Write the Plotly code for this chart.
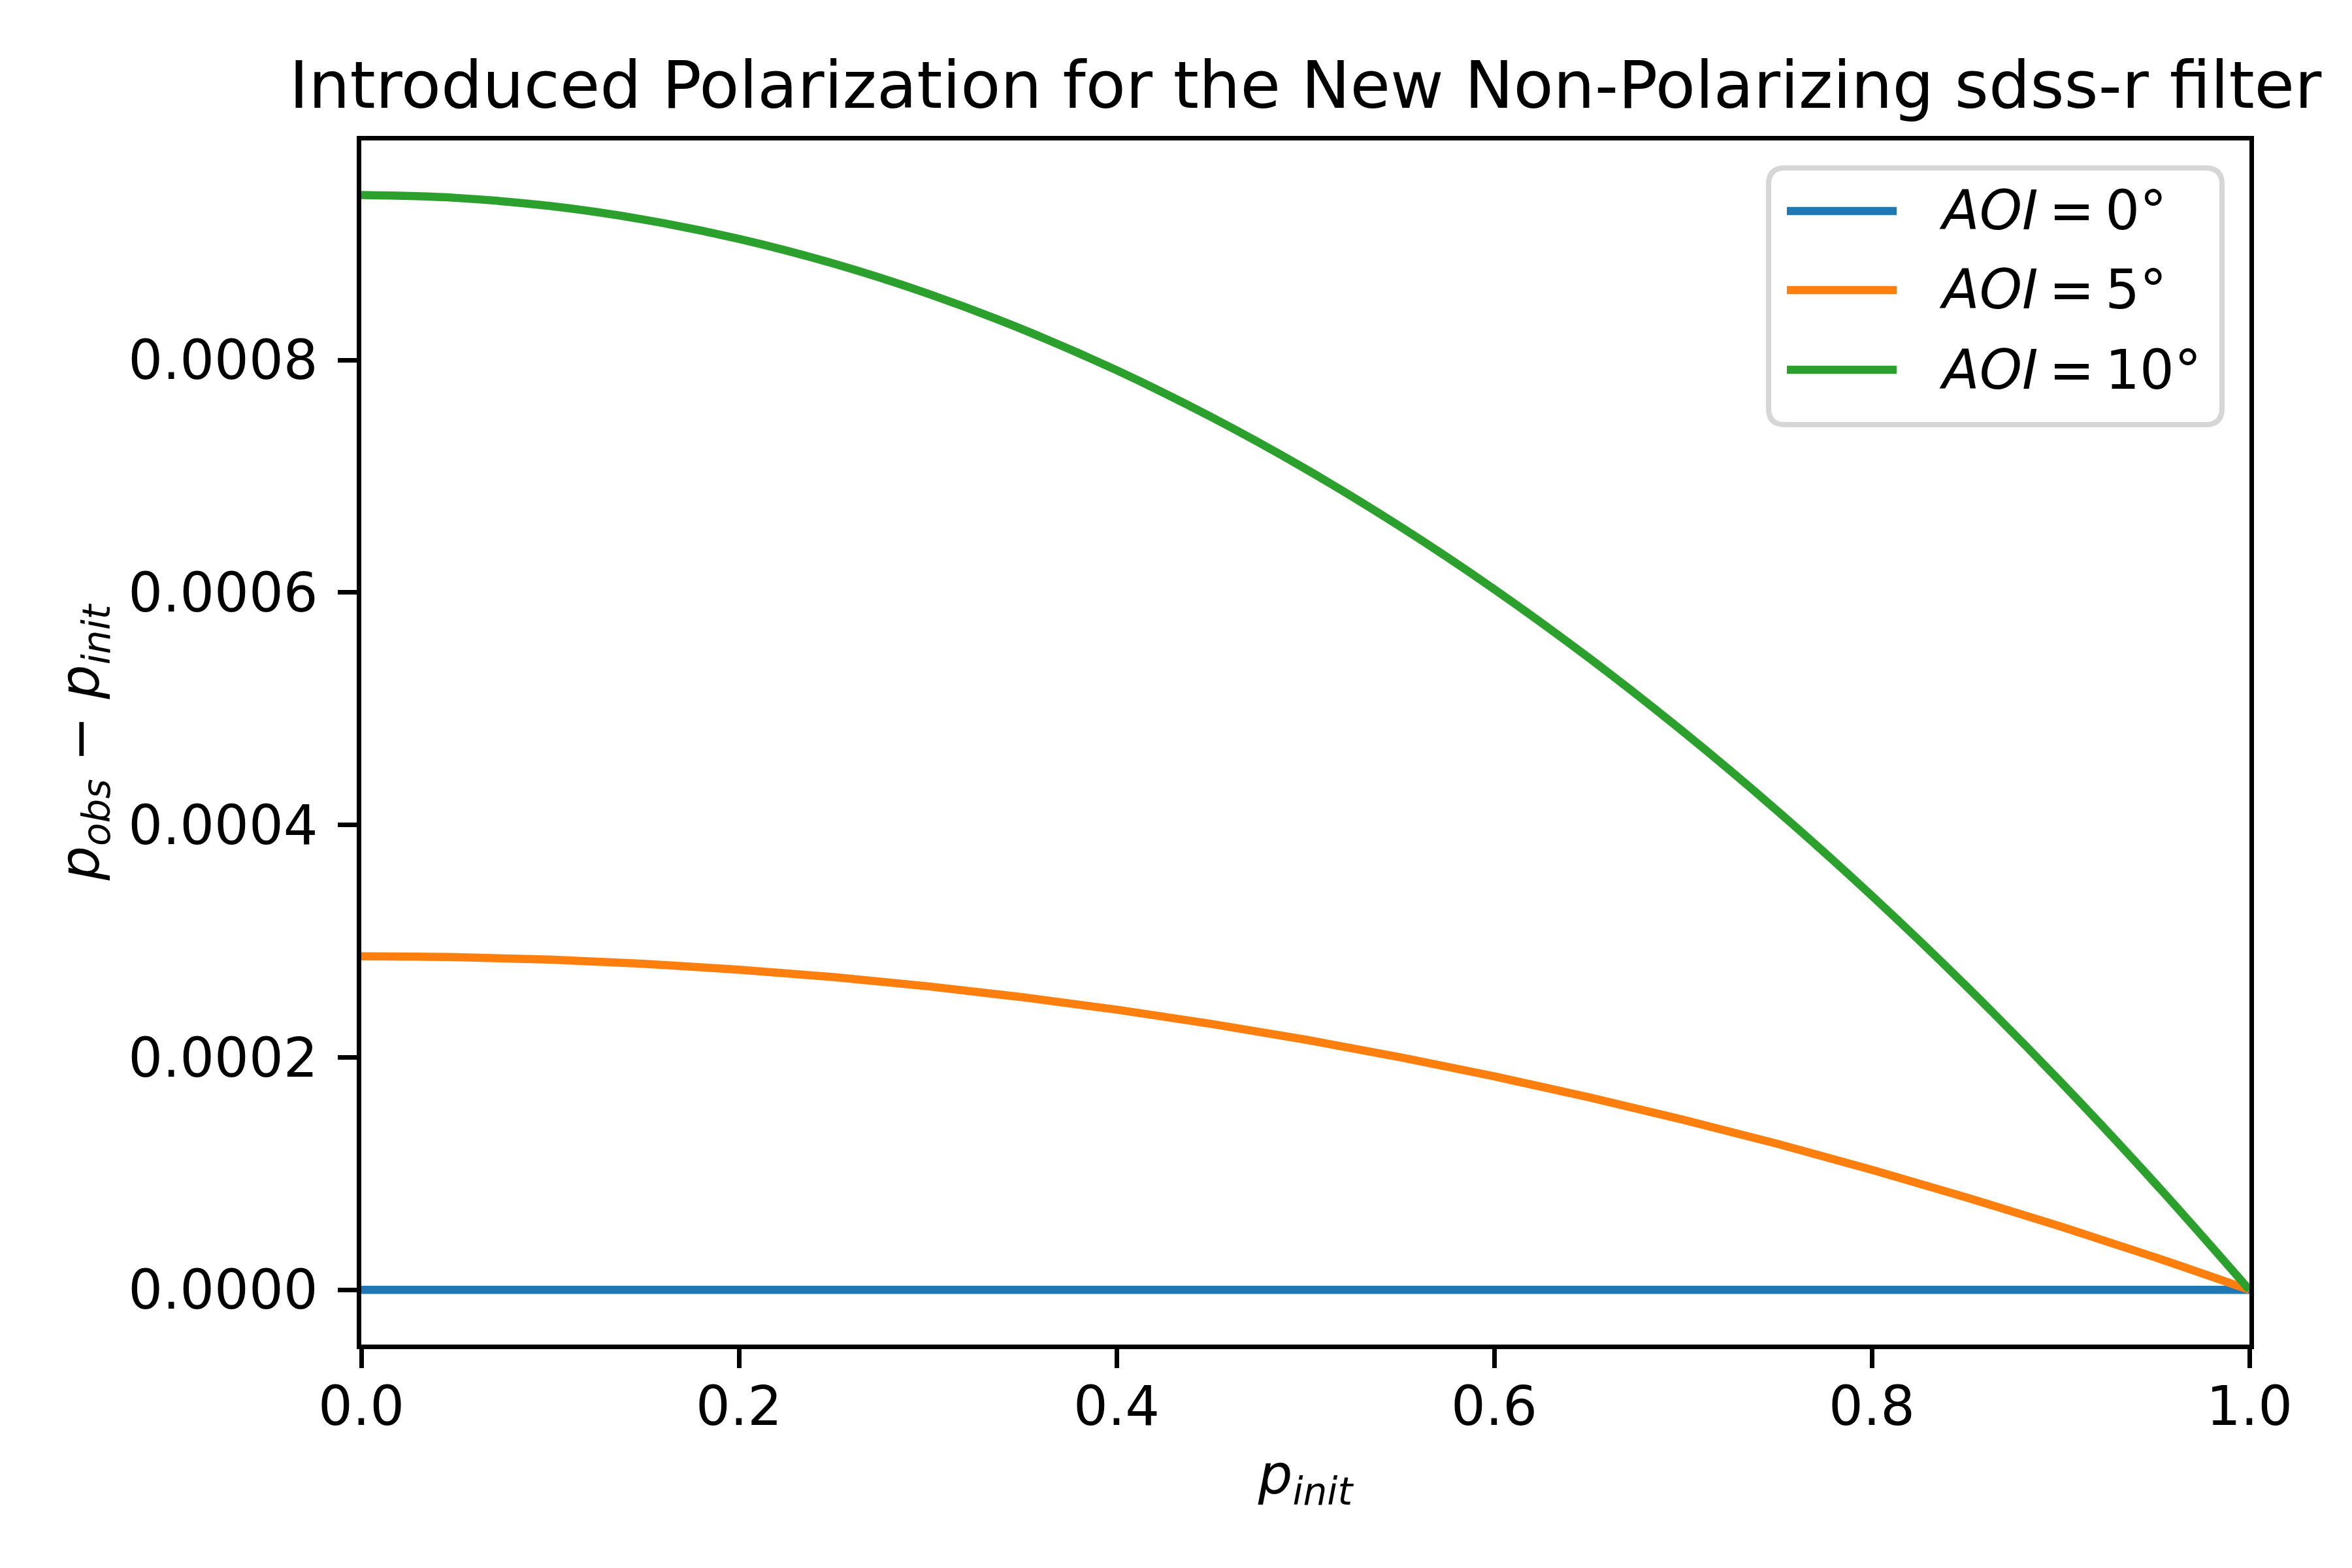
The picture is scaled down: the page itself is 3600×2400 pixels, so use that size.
import plotly.graph_objects as go

# ---- data ----
p_init = [0.00, 0.05, 0.10, 0.15, 0.20, 0.25, 0.30, 0.35, 0.40, 0.45, 0.50,
          0.55, 0.60, 0.65, 0.70, 0.75, 0.80, 0.85, 0.90, 0.95, 1.00]
aoi_0 = [0.0] * 21
aoi_5 = [0.0002870, 0.0002863, 0.0002841, 0.0002805, 0.0002755, 0.0002691, 0.0002612,
         0.0002518, 0.0002411, 0.0002289, 0.0002153, 0.0002002, 0.0001837, 0.0001657,
         0.0001464, 0.0001256, 0.0001033, 0.0000796, 0.0000545, 0.0000280, 0.0]
aoi_10 = [0.0009420, 0.0009396, 0.0009326, 0.0009208, 0.0009043, 0.0008831, 0.0008572,
          0.0008266, 0.0007913, 0.0007512, 0.0007065, 0.0006570, 0.0006029, 0.0005440,
          0.0004804, 0.0004121, 0.0003391, 0.0002614, 0.0001790, 0.0000918, 0.0]
series_names = ["<i>AOI</i>\u2009=\u20090°", "<i>AOI</i>\u2009=\u20095°", "<i>AOI</i>\u2009=\u200910°"]
colors = ["#1f77b4", "#ff7f0e", "#2ca02c"]
x_ticks = [0.0, 0.2, 0.4, 0.6, 0.8, 1.0]
y_ticks = [0.0, 0.0002, 0.0004, 0.0006, 0.0008]
title_text = "Introduced Polarization for the New Non-Polarizing sdss-r filter"

FONT = "DejaVu Sans"
W, H = 3600, 2400
OFF = 8  # page body margin offset
ML, MR, MT, MB = 553 - OFF, 157 + OFF, 215 - OFF, 342 + OFF
PW, PH = W - ML - MR, H - MT - MB

fig = go.Figure()
for ys, name, col in zip([aoi_0, aoi_5, aoi_10], series_names, colors):
    fig.add_trace(go.Scatter(x=p_init, y=ys, mode="lines", name=name,
                             line=dict(color=col, width=12.5, shape="spline", smoothing=1.0),
                             showlegend=False))

axis_common = dict(showline=True, mirror=True, linecolor="black", linewidth=6.7,
                   ticks="outside", ticklen=29, tickwidth=6.7, tickcolor="black",
                   showgrid=False, zeroline=False,
                   tickfont=dict(family=FONT, size=83, color="black"))

fig.update_xaxes(range=[0, 1], tickvals=x_ticks, tickformat=".1f", ticklabelstandoff=-12,
                 title=dict(text="<i>p</i><sub><i>init</i></sub>",
                            font=dict(family=FONT, size=83, color="black"), standoff=30),
                 **axis_common)
fig.update_yaxes(range=[-0.0000471, 0.000989], tickvals=y_ticks, tickformat=".4f",
                 ticklabelstandoff=14,
                 title=dict(text="<i>p</i><sub><i>obs</i></sub> − <i>p</i><sub><i>init</i></sub>",
                            font=dict(family=FONT, size=83, color="black"), standoff=20),
                 **axis_common)

# ---- legend drawn in paper coordinates (targets given in page pixels) ----
def px2x(px):
    return (px - OFF - ML) / PW

def py2y(py):
    return (H - MB - (py - OFF)) / PH

bx0, bx1, by0, by1 = px2x(2707), px2x(3401), py2y(650), py2y(257)
rx, ry = 25 / PW, 25 / PH
path = (f"M {bx0+rx},{by1} L {bx1-rx},{by1} Q {bx1},{by1} {bx1},{by1-ry} "
        f"L {bx1},{by0+ry} Q {bx1},{by0} {bx1-rx},{by0} "
        f"L {bx0+rx},{by0} Q {bx0},{by0} {bx0},{by0+ry} "
        f"L {bx0},{by1-ry} Q {bx0},{by1} {bx0+rx},{by1} Z")
shapes = [dict(type="path", path=path, xref="paper", yref="paper",
               line=dict(color="#d6d6d6", width=8), fillcolor="rgba(255,255,255,0.8)",
               layer="above")]
annotations = []
row_y = [323, 444, 566]
for ry_px, name, col in zip(row_y, series_names, colors):
    shapes.append(dict(type="line", xref="paper", yref="paper",
                       x0=px2x(2735), x1=px2x(2903), y0=py2y(ry_px), y1=py2y(ry_px),
                       line=dict(color=col, width=12.5), layer="above"))
    annotations.append(dict(text=name, xref="paper", yref="paper",
                            x=px2x(2966), y=py2y(ry_px), xanchor="left", yanchor="middle",
                            showarrow=False, font=dict(family=FONT, size=83, color="black")))

fig.update_layout(
    width=W, height=H,
    margin=dict(l=ML, r=MR, t=MT, b=MB, autoexpand=False),
    paper_bgcolor="white", plot_bgcolor="white",
    title=dict(text=title_text, x=0.5, xref="paper", y=1, yref="paper",
               yanchor="bottom", xanchor="center", pad=dict(b=50),
               font=dict(family=FONT, size=100, color="black")),
    shapes=shapes, annotations=annotations, showlegend=False,
)

fig.write_html("out.html")
